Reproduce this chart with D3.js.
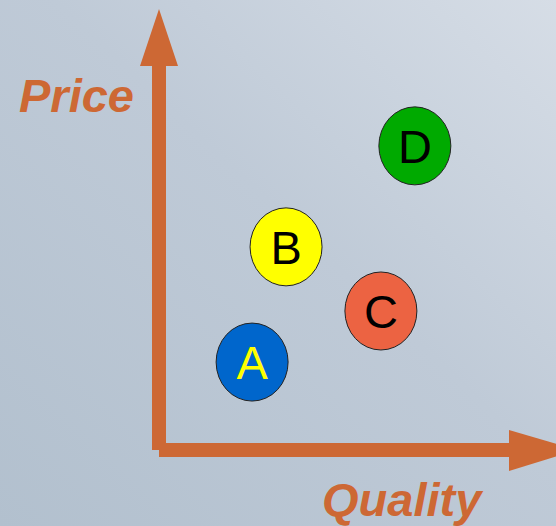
<!DOCTYPE html>
<html>
<head>
<meta charset="utf-8">
<script src="https://cdn.jsdelivr.net/npm/d3@7"></script>
<style>
  html, body { margin: 0; padding: 0; overflow: hidden; }
</style>
</head>
<body>
<div id="chart"></div>
<script>
//------------------------1. DATA------------------------//
const brands = ["A", "B", "C", "D"];
const quality = [2.66, 3.63, 6.34, 7.31];
const price = [2.29, 5.29, 3.62, 7.92];
const fills = ["#0066cc", "#ffff00", "#ec6342", "#00aa00"];
const textColors = ["#ffff00", "#000000", "#000000", "#000000"];
const axisLabels = ["Quality", "Price"];

//------------------------2. SVG-------------------------//
const width = 556;
const height = 526;
const orange = "#cd6834";

const svg = d3.select("#chart").append("svg")
    .attr("width", width)
    .attr("height", height);

const defs = svg.append("defs");
const grad = defs.append("linearGradient")
    .attr("id", "bg")
    .attr("x1", "0%").attr("y1", "100%")
    .attr("x2", "100%").attr("y2", "0%");
grad.append("stop").attr("offset", "0%").attr("stop-color", "#b2c0ce");
grad.append("stop").attr("offset", "55%").attr("stop-color", "#bfcad7");
grad.append("stop").attr("offset", "100%").attr("stop-color", "#d6dde6");

svg.append("rect")
    .attr("width", width)
    .attr("height", height)
    .attr("fill", "url(#bg)");

//-----------------------3. SCALES-----------------------//
const xScale = d3.scaleLinear().domain([0, 10]).range([159, 509]);
const yScale = d3.scaleLinear().domain([0, 10]).range([450, 66]);

//-----------------------4. AXES-------------------------//
const shaft = 14;
const x0 = xScale(0), y0 = yScale(0);
const xEnd = xScale.range()[1], yEnd = yScale.range()[1];

// vertical (price) arrow
svg.append("rect")
    .attr("x", x0 - shaft / 2)
    .attr("y", yEnd)
    .attr("width", shaft)
    .attr("height", y0 - yEnd)
    .attr("fill", orange);
svg.append("path")
    .attr("d", d3.line()([[x0 - 19, yEnd], [x0 + 19, yEnd], [x0, yEnd - 57]]) + "Z")
    .attr("fill", orange);

// horizontal (quality) arrow
svg.append("rect")
    .attr("x", x0)
    .attr("y", y0 - shaft / 2)
    .attr("width", xEnd - x0)
    .attr("height", shaft)
    .attr("fill", orange);
svg.append("path")
    .attr("d", d3.line()([[xEnd, y0 - 20], [xEnd, y0 + 21], [xEnd + 68, y0]]) + "Z")
    .attr("fill", orange);

// axis labels
svg.append("text")
    .attr("x", 322)
    .attr("y", 516)
    .attr("font-family", "Liberation Sans, Arial, sans-serif")
    .attr("font-size", 47)
    .attr("font-weight", "bold")
    .attr("font-style", "italic")
    .attr("fill", orange)
    .text(axisLabels[0]);

svg.append("text")
    .attr("x", 19)
    .attr("y", 112)
    .attr("font-family", "Liberation Sans, Arial, sans-serif")
    .attr("font-size", 47)
    .attr("font-weight", "bold")
    .attr("font-style", "italic")
    .attr("fill", orange)
    .text(axisLabels[1]);

//----------------------5. POINTS------------------------//
const points = svg.selectAll("g.brand")
    .data(brands)
    .enter()
    .append("g")
    .attr("class", "brand")
    .attr("transform", function(d, i) {
        return "translate(" + xScale(quality[i]) + "," + yScale(price[i]) + ")"; });

points.append("ellipse")
    .attr("rx", 36)
    .attr("ry", 39)
    .attr("fill", function(d, i) { return fills[i]; })
    .attr("stroke", "#222")
    .attr("stroke-width", 1);

points.append("text")
    .attr("text-anchor", "middle")
    .attr("y", 17)
    .attr("font-family", "Liberation Sans, Arial, sans-serif")
    .attr("font-size", 47)
    .attr("fill", function(d, i) { return textColors[i]; })
    .text(function(d) { return d; });
</script>
</body>
</html>
